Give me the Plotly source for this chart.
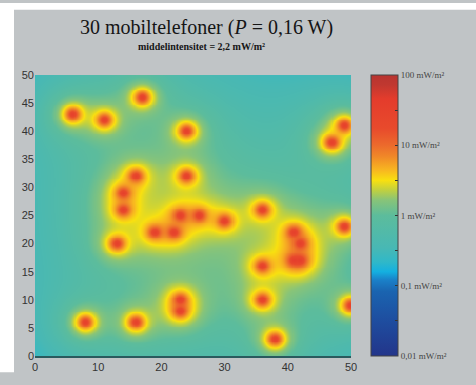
import numpy as np
import plotly.graph_objects as go

# Phone positions (m)
phone_x = [17, 6, 11, 24, 49, 47, 16, 24, 14, 14, 23, 26, 30, 19, 22,
           13, 36, 49, 41, 42, 41, 42, 36, 23, 23, 36, 50, 8, 16, 38]
phone_y = [46, 43, 42, 40, 41, 38, 32, 32, 29, 26, 25, 25, 24, 22, 22,
           20, 26, 23, 22, 20, 17, 17, 16, 10, 8, 10, 9, 6, 6, 3]
power_w = 0.16          # W per phone
efficiency = 0.6        # fraction of power radiated into the plane shown
height_m = 0.5          # vertical offset of the field plane (m)

cb_vals = [-2, -1.5, -1, -0.5, 0, 0.5, 1, 1.5, 2]
cb_text = ["0,01 mW/m²", "", "0,1 mW/m²", "", "1 mW/m²", "", "10 mW/m²", "", "100 mW/m²"]
x_ticks = [0, 10, 20, 30, 40, 50]
y_ticks = [0, 5, 10, 15, 20, 25, 30, 35, 40, 45, 50]

# Intensity field (mW/m²) from the phones
g = np.linspace(0, 50, 301)
X, Y = np.meshgrid(g, g)
I = np.zeros_like(X)
for px, py in zip(phone_x, phone_y):
    I += efficiency * power_w * 1000 / (4 * np.pi * ((X - px) ** 2 + (Y - py) ** 2 + height_m ** 2))
Z = np.log10(I)

colorscale = [
    [0.00, "#23358a"], [0.13, "#1e4ea0"], [0.23, "#1a64b0"], [0.27, "#1a80c8"],
    [0.30, "#14b0e0"], [0.335, "#30b8c8"], [0.385, "#48b8b4"], [0.50, "#5cbc9c"],
    [0.555, "#88c478"], [0.59, "#c0d040"], [0.625, "#f8e010"], [0.66, "#f8b820"],
    [0.71, "#f08828"], [0.75, "#ec6a2c"], [0.81, "#e84a2c"], [0.915, "#e43c2c"],
    [0.965, "#c03830"], [1.00, "#b83430"],
]

L, R, T, B = 35, 125, 75, 17
W, H = 476, 385
pw, ph = W - L - R, H - T - B

def px2x(p):
    return (p - L) / pw

def py2y(p):
    return (H - B - p) / ph

fig = go.Figure(go.Heatmap(
    x=g, y=g, z=Z, zmin=-2, zmax=2, colorscale=colorscale,
    colorbar=dict(
        x=px2x(371), xanchor="left", xref="paper", xpad=0, ypad=0,
        y=0.5, yanchor="middle", len=1, lenmode="fraction",
        thickness=27, outlinewidth=1, outlinecolor="#444",
        tickvals=cb_vals, ticktext=cb_text, ticks="inside", ticklen=3,
        tickcolor="#333",
        tickfont=dict(family="Liberation Serif", size=9, color="#444"),
    ),
    hoverinfo="skip",
))

fig.update_layout(
    width=W, height=H,
    margin=dict(l=L, r=R, t=T, b=B),
    paper_bgcolor="#c0c4c6", plot_bgcolor="#c0c4c6",
    xaxis=dict(range=[0, 50], tickvals=x_ticks, showgrid=False, zeroline=False,
               showline=True, linecolor="#2a5a5e", linewidth=2, ticks="",
               tickfont=dict(family="Liberation Sans", size=11, color="#333")),
    yaxis=dict(range=[0, 50], tickvals=y_ticks, showgrid=False, zeroline=False,
               showline=False, ticks="",
               tickfont=dict(family="Liberation Sans", size=11, color="#333")),
    showlegend=False,
    annotations=[
        dict(text="30 mobiltelefoner (<i>P</i> = 0,16 W)", xref="paper", yref="paper",
             x=px2x(206), y=py2y(25), xanchor="center", yanchor="middle", showarrow=False,
             font=dict(family="Liberation Serif", size=20, color="#151515")),
        dict(text="<b>middelintensitet = 2,2 mW/m²</b>", xref="paper", yref="paper",
             x=px2x(201), y=py2y(45), xanchor="center", yanchor="middle", showarrow=False,
             font=dict(family="Liberation Serif", size=10, color="#151515")),
    ],
    shapes=[
        dict(type="rect", xref="paper", yref="paper", x0=px2x(0), x1=px2x(14),
             y0=py2y(H), y1=py2y(0), fillcolor="white", line=dict(width=0), layer="above"),
        dict(type="rect", xref="paper", yref="paper", x0=px2x(0), x1=px2x(W),
             y0=py2y(7), y1=py2y(0), fillcolor="white", line=dict(width=0), layer="above"),
    ],
)

fig.write_html("out.html")
